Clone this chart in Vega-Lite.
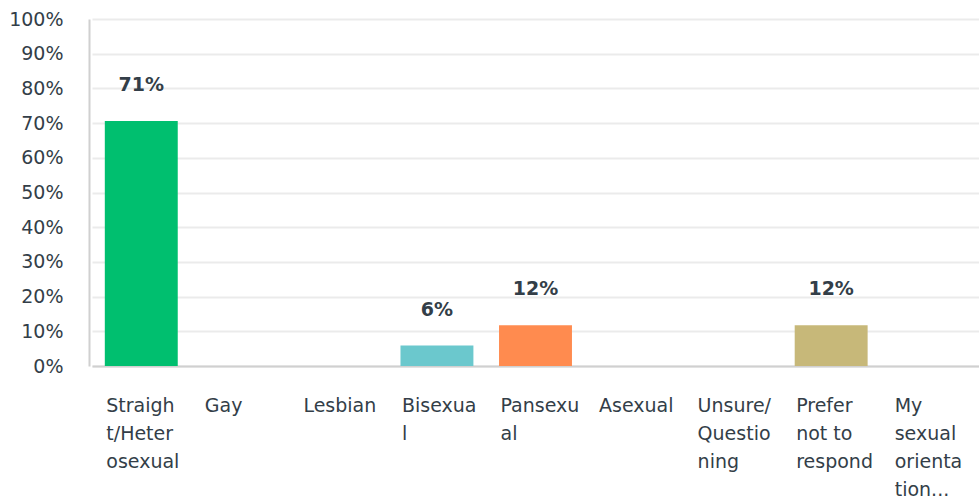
{
  "$schema": "https://vega.github.io/schema/vega-lite/v6.json",
  "width": 887,
  "height": 347,
  "autosize": {"type": "none"},
  "padding": {"left": 92, "top": 19, "right": 0, "bottom": 134},
  "background": "white",
  "config": {
    "view": {"stroke": null},
    "font": "DejaVu Sans"
  },
  "data": {
    "values": [
      {"label": "Straigh|t/Heter|osexual", "value": 0.7059, "color": "#00bf6f"},
      {"label": "Gay", "value": 0, "color": "#00bf6f"},
      {"label": "Lesbian", "value": 0, "color": "#00bf6f"},
      {"label": "Bisexua|l", "value": 0.0588, "color": "#6bc8cd"},
      {"label": "Pansexu|al", "value": 0.1176, "color": "#ff8b4f"},
      {"label": "Asexual", "value": 0, "color": "#00bf6f"},
      {"label": "Unsure/|Questio|ning", "value": 0, "color": "#00bf6f"},
      {"label": "Prefer|not to|respond", "value": 0.1176, "color": "#c7b879"},
      {"label": "My|sexual|orienta|tion...", "value": 0, "color": "#00bf6f"}
    ]
  },
  "encoding": {
    "x": {
      "field": "label",
      "type": "nominal",
      "sort": null,
      "scale": {"paddingInner": 0.26, "paddingOuter": 0.13},
      "axis": {
        "title": null,
        "labelExpr": "split(datum.label, '|')",
        "labelAngle": 0,
        "labelAlign": "left",
        "labelBaseline": "top",
        "labelOffset": -35,
        "labelPadding": 30,
        "labelFontSize": 19,
        "labelLineHeight": 28,
        "labelColor": "#333e48",
        "labelFont": "DejaVu Sans",
        "labelOverlap": false,
        "ticks": false,
        "domainColor": "#d0d0d0",
        "domainWidth": 2,
        "labelLimit": 200
      }
    },
    "y": {
      "field": "value",
      "type": "quantitative",
      "scale": {"domain": [0, 1]},
      "axis": {
        "title": null,
        "format": ".0%",
        "values": [0, 0.1, 0.2, 0.3, 0.4, 0.5, 0.6, 0.7, 0.8, 0.9, 1],
        "labelOverlap": false,
        "labelFontSize": 19,
        "labelFont": "DejaVu Sans",
        "labelColor": "#333e48",
        "labelPadding": 26,
        "ticks": false,
        "domainColor": "#d0d0d0",
        "domainWidth": 2,
        "offset": 3,
        "gridColor": "#ebebeb",
        "gridWidth": 2
      }
    }
  },
  "layer": [
    {
      "mark": {"type": "bar"},
      "encoding": {
        "color": {"field": "color", "type": "nominal", "scale": null}
      }
    },
    {
      "transform": [{"filter": "datum.value > 0"}],
      "mark": {
        "type": "text",
        "dy": -36,
        "fontSize": 19,
        "fontWeight": "bold",
        "font": "DejaVu Sans",
        "color": "#333e48",
        "baseline": "middle"
      },
      "encoding": {
        "text": {"field": "value", "type": "quantitative", "format": ".0%"}
      }
    }
  ]
}
